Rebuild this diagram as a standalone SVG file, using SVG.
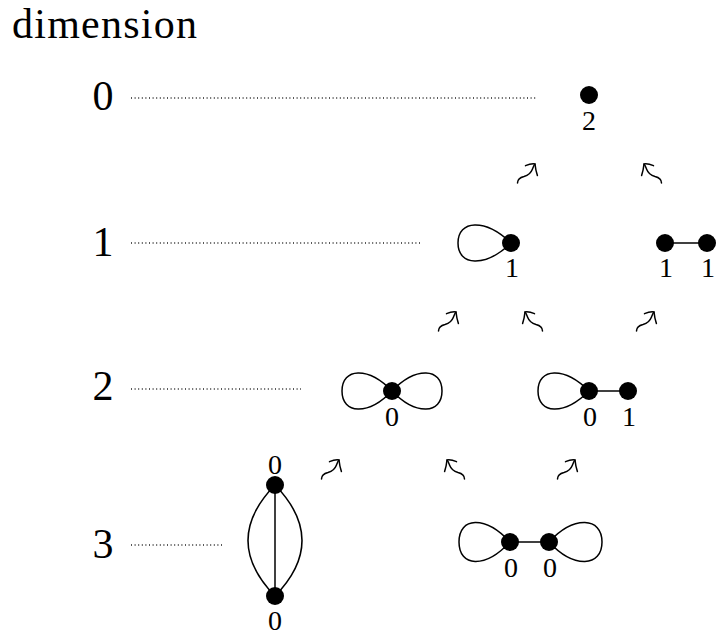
<svg xmlns="http://www.w3.org/2000/svg" xmlns:xlink="http://www.w3.org/1999/xlink" width="717" height="637" viewBox="0 0 717 637">
  <style>
    text { font-family: Liberation Serif, DejaVu Serif, Noto Serif, serif; fill: #000; }
    .big { font-size: 42px; }
    .lbl { font-size: 28px; text-anchor: middle; }
    .dim { text-anchor: middle; }
    .dots { stroke: #222; stroke-width: 1.3; stroke-dasharray: 1 2.6; fill: none; }
    .edge { stroke: #000; stroke-width: 1.5; fill: none; }
    .v { fill: #000; }
    .sq { stroke: #000; stroke-width: 1.5; fill: none; stroke-linecap: round; stroke-linejoin: round; }
  </style>
  <defs>
    <!-- rotated "leadsto" arrow pointing up-right, tip near (18,1) -->
    <g id="sq">
      <path class="sq" d="M0.5,20 C0.5,16 3,14.5 7,13.5 C12,12 14,10 15.5,6 C16.5,3.5 17,2 18,1"/>
      <path class="sq" d="M8.5,2.6 Q14,0.4 18,1 Q18.6,7 20.4,12.5"/>
    </g>
  </defs>

  <rect width="717" height="637" fill="#fff"/>

  <!-- axis title and dimension levels -->
  <g id="axis">
    <text class="big" x="12" y="38" font-size="45" textLength="185">dimension</text>
    <text class="big dim" x="103" y="110">0</text>
    <text class="big dim" x="103" y="256">1</text>
    <text class="big dim" x="103" y="400">2</text>
    <text class="big dim" x="103" y="558">3</text>
  </g>

  <g id="connectors">
    <!-- dotted level leaders -->
    <line class="dots" x1="131" y1="98" x2="537" y2="98"/>
    <line class="dots" x1="131" y1="243" x2="421" y2="243"/>
    <line class="dots" x1="131" y1="389" x2="301" y2="389"/>
    <line class="dots" x1="131" y1="545" x2="223" y2="545"/>
    <!-- degeneration arrows -->
    <use xlink:href="#sq" transform="translate(517,163)"/>
    <use xlink:href="#sq" transform="translate(662,163) scale(-1,1)"/>
    <use xlink:href="#sq" transform="translate(438,311)"/>
    <use xlink:href="#sq" transform="translate(543,311) scale(-1,1)"/>
    <use xlink:href="#sq" transform="translate(636,311)"/>
    <use xlink:href="#sq" transform="translate(321,459)"/>
    <use xlink:href="#sq" transform="translate(465,459) scale(-1,1)"/>
    <use xlink:href="#sq" transform="translate(557,459)"/>
  </g>

  <!-- dimension 0 -->
  <g id="g-point">
    <circle class="v" cx="589" cy="95" r="9"/>
    <text class="lbl" x="589" y="130">2</text>
  </g>

  <!-- dimension 1 -->
  <g id="g-loop">
    <path class="edge" d="M511,243 C485,218 458,220 458,243 C458,266 485,268 511,243"/>
    <circle class="v" cx="511" cy="243" r="9"/>
    <text class="lbl" x="512" y="277">1</text>
  </g>
  <g id="g-edge">
    <line class="edge" x1="665" y1="243" x2="707" y2="243"/>
    <circle class="v" cx="665" cy="243" r="9"/>
    <circle class="v" cx="707" cy="243" r="9"/>
    <text class="lbl" x="666" y="277">1</text>
    <text class="lbl" x="708" y="277">1</text>
  </g>

  <!-- dimension 2 -->
  <g id="g-figure-eight">
    <path class="edge" d="M392,391 C368,366 342,368 342,391 C342,414 368,416 392,391"/>
    <path class="edge" d="M392,391 C416,366 442,368 442,391 C442,414 416,416 392,391"/>
    <circle class="v" cx="392" cy="391" r="9"/>
    <text class="lbl" x="392" y="426">0</text>
  </g>
  <g id="g-loop-edge">
    <path class="edge" d="M589,391 C564,366 538,368 538,391 C538,414 564,416 589,391"/>
    <line class="edge" x1="589" y1="391" x2="628" y2="391"/>
    <circle class="v" cx="589" cy="391" r="9"/>
    <circle class="v" cx="628" cy="391" r="9"/>
    <text class="lbl" x="590" y="426">0</text>
    <text class="lbl" x="629" y="426">1</text>
  </g>

  <!-- dimension 3 -->
  <g id="g-theta">
    <path class="edge" d="M275,485 C239,522 239,559 275,596"/>
    <path class="edge" d="M275,485 C311,522 311,559 275,596"/>
    <line class="edge" x1="275" y1="485" x2="275" y2="596"/>
    <circle class="v" cx="275" cy="485" r="9"/>
    <circle class="v" cx="275" cy="596" r="9"/>
    <text class="lbl" x="275" y="474">0</text>
    <text class="lbl" x="275" y="630">0</text>
  </g>
  <g id="g-dumbbell">
    <path class="edge" d="M510,542 C485,515 459,517 459,542 C459,567 485,569 510,542"/>
    <path class="edge" d="M549,542 C574,515 602,517 602,542 C602,567 574,569 549,542"/>
    <line class="edge" x1="510" y1="542" x2="549" y2="542"/>
    <circle class="v" cx="510" cy="542" r="9"/>
    <circle class="v" cx="549" cy="542" r="9"/>
    <text class="lbl" x="511" y="577">0</text>
    <text class="lbl" x="550" y="577">0</text>
  </g>
</svg>
